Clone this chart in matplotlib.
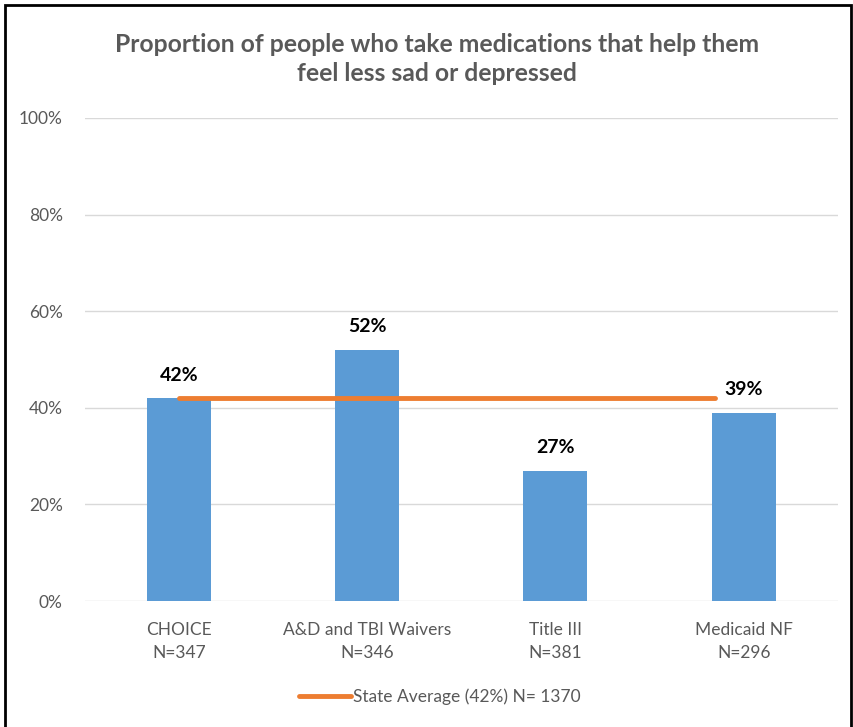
import matplotlib.pyplot as plt
import numpy as np
from matplotlib.patches import Rectangle
from matplotlib.ticker import PercentFormatter

plt.rcParams['font.family'] = ['Lato', 'DejaVu Sans']

# data
categories = ['CHOICE\nN=347', 'A&D and TBI Waivers\nN=346', 'Title III\nN=381', 'Medicaid NF\nN=296']
values = [42, 52, 27, 39]
state_avg = 42
legend_label = 'State Average (42%) N= 1370'
title = 'Proportion of people who take medications that help them\nfeel less sad or depressed'

fig = plt.figure(figsize=(8.54, 7.27), dpi=100)
ax = fig.add_axes([0.0995, 0.1733, 0.8815, 0.6644])

x = np.arange(len(categories))
ax.bar(x, values, width=0.34, color='#5B9BD5', zorder=2)
for xi, v in zip(x, values):
    ax.text(xi, v + 3, f'{v}%', ha='center', va='bottom', fontsize=14,
            fontweight='bold', color='black')

# state average line (ends a bit before the last category, as in the original)
ax.plot([x[0], x[-1] - 0.15], [state_avg, state_avg], color='#ED7D31', lw=3.5,
        solid_capstyle='round', zorder=3, label=legend_label)

ax.set_xlim(-0.5, len(categories) - 0.5)
ax.set_ylim(0, 100)
ax.set_yticks(np.arange(0, 101, 20))
ax.yaxis.set_major_formatter(PercentFormatter(decimals=0))
ax.set_xticks(x)
ax.set_xticklabels(categories, fontsize=12.5, color='#595959', linespacing=1.55)
ax.tick_params(axis='y', labelsize=12.5, labelcolor='#595959', length=0, pad=16)
ax.tick_params(axis='x', length=0, pad=15)
ax.grid(axis='y', color='#D9D9D9', lw=1, zorder=0)
for s in ax.spines.values():
    s.set_visible(False)

fig.text(0.512, 0.919, title, ha='center', va='center', fontsize=17.8,
         fontweight='bold', color='#595959', linespacing=1.28)

leg = fig.legend(loc='center', bbox_to_anchor=(0.515, 0.041), frameon=False,
                 fontsize=12.5, handlelength=3, handletextpad=0.1)
for t in leg.get_texts():
    t.set_color('#595959')

# outer frame
fig.patches.append(Rectangle((0.006, -0.01), 0.991, 1.003, transform=fig.transFigure,
                             fill=False, edgecolor='black', lw=2))

fig.savefig('out.png', dpi=100)
